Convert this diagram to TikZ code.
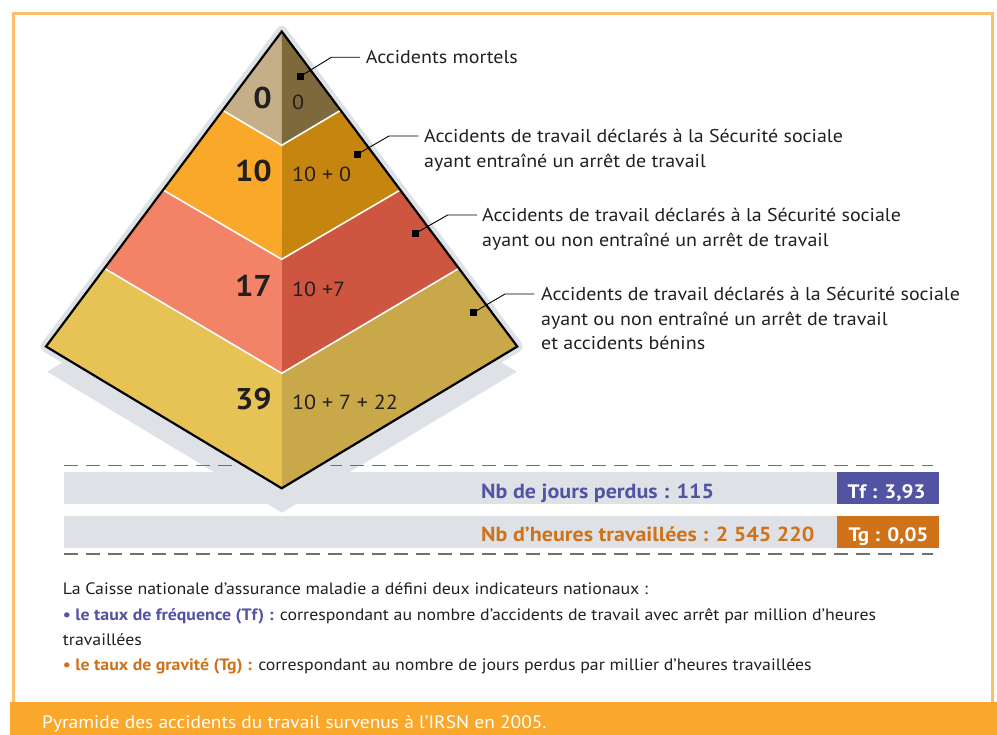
\documentclass[tikz,border=0pt]{standalone}
\usepackage{fontspec}
\setmainfont{PT Sans}[FakeStretch=1.08]
\definecolor{framec}{HTML}{FDBF6E}
\definecolor{bannerc}{HTML}{F9A82B}
\definecolor{txt}{HTML}{231F20}
\definecolor{halo}{HTML}{DEE2E6}
\definecolor{c1l}{HTML}{C5AF88}
\definecolor{c1r}{HTML}{7E693D}
\definecolor{c2l}{HTML}{F9A82A}
\definecolor{c2r}{HTML}{C5850F}
\definecolor{c3l}{HTML}{F38366}
\definecolor{c3r}{HTML}{CE5540}
\definecolor{c4l}{HTML}{E7C255}
\definecolor{c4r}{HTML}{C8A848}
\definecolor{tfc}{HTML}{5254A3}
\definecolor{tgc}{HTML}{D0721A}
\definecolor{dashc}{HTML}{707070}
\tikzset{
  lab/.style={anchor=base west, inner sep=0pt, text=txt, font=\fontsize{18.5}{24.5}\selectfont},
  bignum/.style={anchor=base east, inner sep=0pt, text=txt, font=\fontsize{30}{30}\selectfont\bfseries},
  sumtxt/.style={anchor=base west, inner sep=0pt, text=txt, font=\fontsize{20.4}{20.4}\selectfont},
  sqmark/.style={rectangle, fill=black, minimum size=7pt, inner sep=0pt},
  lead/.style={draw=black, line width=0.9pt},
  bartxt/.style={anchor=base west, inner sep=0pt, font=\fontsize{20.4}{20.4}\selectfont\bfseries},
  boxtxt/.style={anchor=base, inner sep=0pt, text=white, font=\fontsize{19.5}{19.5}\selectfont\bfseries},
  note/.style={anchor=base west, inner sep=0pt, text=txt, font=\fontsize{16.5}{16.5}\selectfont},
  sepline/.style={draw=dashc, line width=1.3pt, dash pattern=on 14pt off 8pt},
  wline/.style={draw=white, line width=1.6pt},
}
\begin{document}
\begin{tikzpicture}[x=1pt,y=-1pt]
\useasboundingbox (0,0) rectangle (997,735);
\fill[white] (0,0) rectangle (997,735);
% frame and banner
\draw[framec, line width=3.3pt] (13.3,702) -- (13.3,13.3) -- (992.7,13.3) -- (992.7,702);
\fill[bannerc] (10,701.5) rectangle (997,735);
% pyramid points
\coordinate (A) at (281.7,31.5);
\coordinate (L) at (46,346.5);
\coordinate (R) at (517.3,346.5);
\coordinate (B) at (281.7,488.3);
\coordinate (E1L) at (222.7,110.3);
\coordinate (E1C) at (281.7,145.3);
\coordinate (E1R) at (340.7,110.3);
\coordinate (E2L) at (163.1,190);
\coordinate (E2C) at (281.7,259.3);
\coordinate (E2R) at (400.3,190);
\coordinate (E3L) at (104.5,268.4);
\coordinate (E3C) at (281.7,373.3);
\coordinate (E3R) at (458.9,268.4);
% bars
\fill[halo] (64,472.3) rectangle (939,504);
\fill[halo] (64,516) rectangle (939,547.7);
% shadow
\fill[halo] (47.3,371.7) -- (281.7,512.7) -- (516.7,371.7) -- (281.7,229.4) -- cycle;
% separators
\draw[sepline] (64,465.3) -- (933,465.3);
\draw[sepline] (64,554) -- (933,554);
% halo
\draw[halo, line width=11pt, line join=round] (A) -- (L) -- (B) -- (R) -- cycle;
% faces
\fill[c1l] (A) -- (E1L) -- (E1C) -- cycle;
\fill[c1r] (A) -- (E1C) -- (E1R) -- cycle;
\fill[c2l] (E1L) -- (E2L) -- (E2C) -- (E1C) -- cycle;
\fill[c2r] (E1C) -- (E2C) -- (E2R) -- (E1R) -- cycle;
\fill[c3l] (E2L) -- (E3L) -- (E3C) -- (E2C) -- cycle;
\fill[c3r] (E2C) -- (E3C) -- (E3R) -- (E2R) -- cycle;
\fill[c4l] (E3L) -- (L) -- (B) -- (E3C) -- cycle;
\fill[c4r] (E3C) -- (B) -- (R) -- (E3R) -- cycle;
\draw[wline] (E1L) -- (E1C) -- (E1R);
\draw[wline] (E2L) -- (E2C) -- (E2R);
\draw[wline] (E3L) -- (E3C) -- (E3R);
\draw[black, line width=2.2pt, line join=miter] (A) -- (L) -- (B) -- (R) -- cycle;
% numbers
\node[bignum] (n1) at (272,108.3) {0};
\node[bignum] (n2) at (272,181.7) {10};
\node[bignum] (n3) at (272,296.7) {17};
\node[bignum] (n4) at (272,410) {39};
\node[sumtxt] (s1) at (292,109.3) {0};
\node[sumtxt] (s2) at (292,181.7) {10 + 0};
\node[sumtxt] (s3) at (292,296.7) {10 +7};
\node[sumtxt] (s4) at (292,410) {10 + 7 + 22};
% callouts
\node[sqmark] (q1) at (300.5,76.3) {};
\node[sqmark] (q2) at (357.4,154.3) {};
\node[sqmark] (q3) at (415.6,233.3) {};
\node[sqmark] (q4) at (473.8,312.3) {};
\coordinate (k1) at (331.3,57.3);
\coordinate (k2) at (389,136);
\coordinate (k3) at (447.7,215);
\coordinate (k4) at (505,294);
\coordinate (t1) at (360,57.3);
\coordinate (t2) at (418.4,136);
\coordinate (t3) at (477,215);
\coordinate (t4) at (534.4,294);
\draw[lead] (q1.center) -- (k1) -- (t1);
\draw[lead] (q2.center) -- (k2) -- (t2);
\draw[lead] (q3.center) -- (k3) -- (t3);
\draw[lead] (q4.center) -- (k4) -- (t4);
\node[lab] (l1) at (365.7,63.9) {Accidents mortels};
\node[lab] (l2) at (424,142.6) {\vtop{\baselineskip=24.5pt\hbox{Accidents de travail déclarés à la Sécurité sociale}\hbox{ayant entraîné un arrêt de travail}}};
\node[lab] (l3) at (482,221.6) {\vtop{\baselineskip=24.5pt\hbox{Accidents de travail déclarés à la Sécurité sociale}\hbox{ayant ou non entraîné un arrêt de travail}}};
\node[lab] (l4) at (541,300.6) {\vtop{\baselineskip=24.5pt\hbox{Accidents de travail déclarés à la Sécurité sociale}\hbox{ayant ou non entraîné un arrêt de travail}\hbox{et accidents bénins}}};
% bar texts and boxes
\node[bartxt, text=tfc] (jours) at (481,498.3) {Nb de jours perdus : 115};
\node[bartxt, text=tgc] (heures) at (481,541) {Nb d’heures travaillées : 2 545 220};
\fill[tfc] (836.7,472.3) rectangle (939,504);
\fill[tgc] (836.7,516) rectangle (939,547.7);
\node[boxtxt] (tf) at (886.5,498.3) {Tf : 3,93};
\node[boxtxt] (tg) at (888.5,541) {Tg : 0,05};
% notes
\node[note] (m1) at (62.7,594) {La Caisse nationale d’assurance maladie a défini deux indicateurs nationaux :};
\node[note] (m2) at (62.7,620) {{\color{tfc}\bfseries • le taux de fréquence (Tf) :} correspondant au nombre d’accidents de travail avec arrêt par million d’heures};
\node[note] (m3) at (62.7,645) {travaillées};
\node[note] (m4) at (62.7,670) {{\color{tgc}\bfseries • le taux de gravité (Tg) :} correspondant au nombre de jours perdus par millier d’heures travaillées};
\node[anchor=base west, inner sep=0pt, text=white, font=\fontsize{18}{18}\selectfont] (cap) at (42,728.3) {Pyramide des accidents du travail survenus à l’IRSN en 2005.};
\end{tikzpicture}
\end{document}
